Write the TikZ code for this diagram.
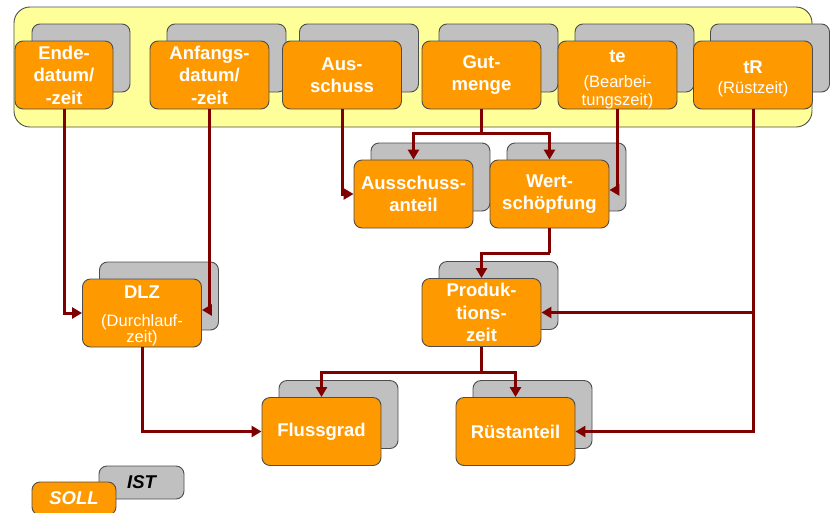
\documentclass[tikz,border=0pt]{standalone}
\usepackage{fontspec}
\setmainfont{Liberation Sans}
\usetikzlibrary{arrows.meta}
\definecolor{ora}{HTML}{FF9900}
\definecolor{shd}{HTML}{C0C0C0}
\definecolor{edgec}{HTML}{4D4D4D}
\definecolor{ylw}{HTML}{FFFF99}
\definecolor{connred}{HTML}{800000}
\newcommand\subtxt{\mdseries\fontsize{16.5}{18}\selectfont}
\tikzset{
 boxbase/.style={draw=edgec, line width=0.9pt, rounded corners=8pt, inner sep=0pt, minimum height=68pt},
 boxtext/.style={text=white, font=\bfseries\fontsize{18.5}{22.5}\selectfont, align=center, inner sep=0pt},
 sollbox/.style={boxbase, fill=ora, boxtext},
 istbox/.style={boxbase, fill=shd},
 wide/.style={minimum width=119pt},
 link/.style={draw=connred, line width=3pt, -{Triangle[length=10pt,width=11pt]}},
 plainlink/.style={draw=connred, line width=3pt},
}
\begin{document}
\begin{tikzpicture}[x=1pt,y=-1pt]
\clip (0,0) rectangle (832,512);
\fill[white] (0,0) rectangle (832,512);
% container
\node[draw=edgec, line width=0.9pt, fill=ylw, rounded corners=16pt, minimum width=798pt, minimum height=120pt, inner sep=0pt] (frame) at (413,67) {};
% shadows
\node[istbox, minimum width=98pt] (ende-s) at (81,58) {};
\node[istbox, wide] (anf-s) at (226.5,58) {};
\node[istbox, wide] (aus-s) at (359,58) {};
\node[istbox, wide] (gut-s) at (498.5,58) {};
\node[istbox, wide] (te-s) at (634.5,58) {};
\node[istbox, wide] (tr-s) at (770,58) {};
\node[istbox, wide] (ausa-s) at (430.5,177) {};
\node[istbox, wide] (wert-s) at (566.5,177) {};
\node[istbox, wide] (prod-s) at (498.5,295.5) {};
\node[istbox, wide] (dlz-s) at (159,296) {};
\node[istbox, wide] (flus-s) at (338.5,414.5) {};
\node[istbox, wide] (rust-s) at (532.5,414.5) {};
% main boxes
\node[sollbox, minimum width=98pt] (ende) at (64,75) {Ende-\\datum/\\-zeit};
\node[sollbox, wide] (anf) at (209.5,75) {Anfangs-\\datum/\\-zeit};
\node[sollbox, wide] (aus) at (342,75) {Aus-\\schuss};
\node[sollbox, wide] (gut) at (481.5,75) {Gut-\\menge};
\node[sollbox, wide] (te) at (617.5,75) {};
\node[boxtext] (te-t) at (617.5,79.5) {te\\[3pt]\subtxt (Bearbei-\\[-5pt]\subtxt tungszeit)};
\node[sollbox, wide] (tr) at (753,75) {};
\node[boxtext] (tr-t) at (753,79) {tR\\[-3pt]\subtxt (Rüstzeit)};
\node[sollbox, wide] (ausa) at (413.5,194) {Ausschuss-\\anteil};
\node[sollbox, wide] (wert) at (549.5,194) {Wert-\\schöpfung};
\node[sollbox, wide] (prod) at (481.5,312.5) {Produk-\\tions-\\zeit};
\node[sollbox, wide] (dlz) at (142,313) {};
\node[boxtext] (dlz-t) at (142,316) {DLZ\\[5pt]\subtxt (Durchlauf-\\[-6pt]\subtxt zeit)};
\node[sollbox, wide] (flus) at (321.5,431.5) {Flussgrad};
\node[sollbox, wide] (rust) at (515.5,431.5) {Rüstanteil};
% legend
\node[istbox, minimum width=85pt, minimum height=33pt, font=\bfseries\itshape\fontsize{18.5}{22}\selectfont] (ist) at (141.5,482.5) {IST};
\node[sollbox, minimum width=84pt, minimum height=33pt, font=\bfseries\itshape\fontsize{18.5}{22}\selectfont] (soll) at (74,498.5) {SOLL};
% junctions
\coordinate (gj) at (481.5,133);
\coordinate (wj) at (549.5,253);
\coordinate (tj) at (753,312.5);
\coordinate (pj) at (481.5,372);
% connectors
\draw[link] (ende.south) |- (dlz.west);
\draw[link] (anf.south) |- ([yshift=3pt]dlz.east);
\draw[link] (aus.south) |- (ausa.west);
\draw[plainlink] (gut.south) -- (gj);
\draw[link] (gj) -| (ausa.north);
\draw[link] (gj) -| (wert.north);
\draw[link] (te.south) |- ([yshift=4pt]wert.east);
\draw[plainlink] (wert.south) -- (wj);
\draw[link] (wj) -| (prod.north);
\draw[link] (tr.south) |- (rust.east);
\draw[link] (tj) -- (prod.east);
\draw[plainlink] (prod.south) -- (pj);
\draw[link] (pj) -| (flus.north);
\draw[link] (pj) -| (rust.north);
\draw[link] (dlz.south) |- (flus.west);
\end{tikzpicture}
\end{document}
